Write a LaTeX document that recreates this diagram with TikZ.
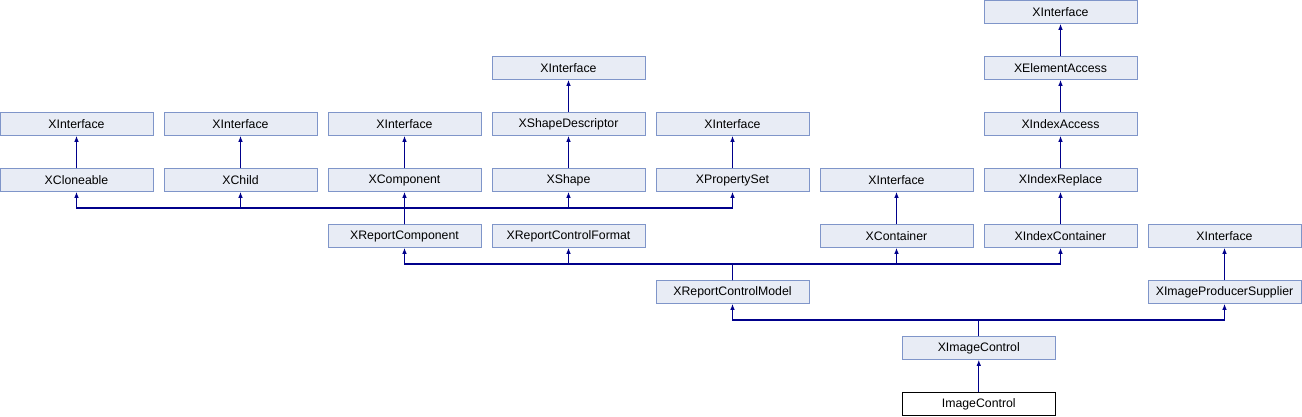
\documentclass[tikz,border=0pt]{standalone}
\usepackage{fontspec}
\setmainfont{Liberation Sans}
\usetikzlibrary{arrows.meta}
\definecolor{boxfill}{HTML}{E8ECF5}
\definecolor{boxline}{HTML}{7F95C9}
\definecolor{edgecol}{HTML}{00008B}
\tikzset{
  cls/.style={rectangle, draw=boxline, fill=boxfill, line width=1pt, minimum width=153pt, minimum height=22.5pt, inner sep=0pt, font=\fontsize{12.3}{14}\selectfont},
  main/.style={cls, draw=black, fill=white},
  edge/.style={draw=edgecol, line width=1.1pt, -{Latex[length=6pt,width=4.5pt]}}
}
\begin{document}
\begin{tikzpicture}[x=1pt,y=-1pt]
\useasboundingbox (0,0) rectangle (1302,416);
% columns: 76.5+164c ; rows: 12+56r
\node[cls] (i0) at (1060.5,12) {XInterface};
\node[cls] (i1) at (568.5,68) {XInterface};
\node[cls] (xea) at (1060.5,68) {XElementAccess};
\node[cls] (i2) at (76.5,124) {XInterface};
\node[cls] (i3) at (240.5,124) {XInterface};
\node[cls] (i4) at (404.5,124) {XInterface};
\node[cls] (xsd) at (568.5,124) {XShapeDescriptor};
\node[cls] (i5) at (732.5,124) {XInterface};
\node[cls] (xia) at (1060.5,124) {XIndexAccess};
\node[cls] (xcl) at (76.5,180) {XCloneable};
\node[cls] (xch) at (240.5,180) {XChild};
\node[cls] (xco) at (404.5,180) {XComponent};
\node[cls] (xsh) at (568.5,180) {XShape};
\node[cls] (xps) at (732.5,180) {XPropertySet};
\node[cls] (i6) at (896.5,180) {XInterface};
\node[cls] (xir) at (1060.5,180) {XIndexReplace};
\node[cls] (xrc) at (404.5,236) {XReportComponent};
\node[cls] (xrf) at (568.5,236) {XReportControlFormat};
\node[cls] (xct) at (896.5,236) {XContainer};
\node[cls] (xic) at (1060.5,236) {XIndexContainer};
\node[cls] (i7) at (1224.5,236) {XInterface};
\node[cls] (xrm) at (732.5,292) {XReportControlModel};
\node[cls] (xps2) at (1224.5,292) {XImageProducerSupplier};
\node[cls] (xim) at (978.8,348) {XImageControl};
\node[main] (img) at (978.8,404) {ImageControl};
\coordinate (b1) at (0,208);
\coordinate (b2) at (0,264);
\coordinate (b3) at (0,320);
% simple edges
\draw[edge] (xea.north) -- (i0.south);
\draw[edge] (xia.north) -- (xea.south);
\draw[edge] (xir.north) -- (xia.south);
\draw[edge] (xic.north) -- (xir.south);
\draw[edge] (xsd.north) -- (i1.south);
\draw[edge] (xsh.north) -- (xsd.south);
\draw[edge] (xcl.north) -- (i2.south);
\draw[edge] (xch.north) -- (i3.south);
\draw[edge] (xco.north) -- (i4.south);
\draw[edge] (xps.north) -- (i5.south);
\draw[edge] (xct.north) -- (i6.south);
\draw[edge] (xps2.north) -- (i7.south);
\draw[edge] (img.north) -- (xim.south);
% bus 1: XReportComponent
\draw[edge] (xrc.north) -- (xrc.north |- b1) -| (xcl.south);
\draw[edge] (xrc.north) -- (xrc.north |- b1) -| (xch.south);
\draw[edge] (xrc.north) -- (xco.south);
\draw[edge] (xrc.north) -- (xrc.north |- b1) -| (xsh.south);
\draw[edge] (xrc.north) -- (xrc.north |- b1) -| (xps.south);
% bus 2: XReportControlModel
\draw[edge] (xrm.north) -- (xrm.north |- b2) -| (xrc.south);
\draw[edge] (xrm.north) -- (xrm.north |- b2) -| (xrf.south);
\draw[edge] (xrm.north) -- (xrm.north |- b2) -| (xct.south);
\draw[edge] (xrm.north) -- (xrm.north |- b2) -| (xic.south);
% bus 3: XImageControl
\draw[edge] (xim.north) -- (xim.north |- b3) -| (xrm.south);
\draw[edge] (xim.north) -- (xim.north |- b3) -| (xps2.south);
\end{tikzpicture}
\end{document}
